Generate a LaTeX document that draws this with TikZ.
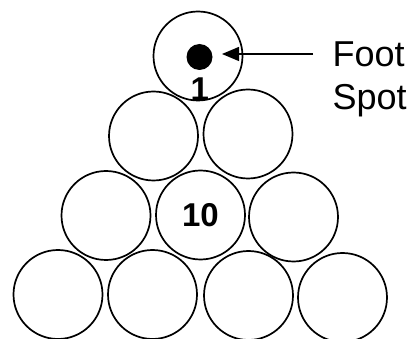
\documentclass[tikz,border=0pt]{standalone}
\usepackage{fontspec}
\setmainfont{Liberation Sans}
\usetikzlibrary{arrows.meta}
\begin{document}
\begin{tikzpicture}[
  x=1pt, y=1pt,
  ball/.style={draw=black, circle, line width=1.7pt, minimum size=89pt, inner sep=0pt, font=\bfseries\fontsize{33}{33}\selectfont},
  arrow/.style={-{Triangle[length=17pt, width=14pt]}, line width=1.3pt},
  caption/.style={anchor=base west, inner sep=0pt, font=\fontsize{36}{36}\selectfont}
]
  \useasboundingbox (0,0) rectangle (413,338);

  % Row 1
  \node[ball] (b1) at (198,282) {};
  % Row 2
  \node[ball] (b2) at (153.5,202) {};
  \node[ball] (b3) at (248,204) {};
  % Row 3
  \node[ball] (b4) at (106,122.5) {};
  \node[ball] (b5) at (200.5,123) {10};
  \node[ball] (b6) at (293.5,121) {};
  % Row 4
  \node[ball] (b7)  at (58,43.5) {};
  \node[ball] (b8)  at (152.5,43.5) {};
  \node[ball] (b9)  at (248.5,42.5) {};
  \node[ball] (b10) at (342.5,40.5) {};

  % Foot spot
  \node[circle, fill=black, minimum size=26pt, inner sep=0pt] (spot) at (199.5,281) {};
  \node[font=\bfseries\fontsize{33}{33}\selectfont, inner sep=0pt] (one) at (199.7,249) {1};

  \coordinate (tip)  at (222,284);
  \coordinate (tail) at (313,284);
  \draw[arrow] (tail) -- (tip);

  \node[caption] (foot) at (332.5,271) {Foot};
  \node[caption] (spottext) at (332.5,228) {Spot};
\end{tikzpicture}
\end{document}
